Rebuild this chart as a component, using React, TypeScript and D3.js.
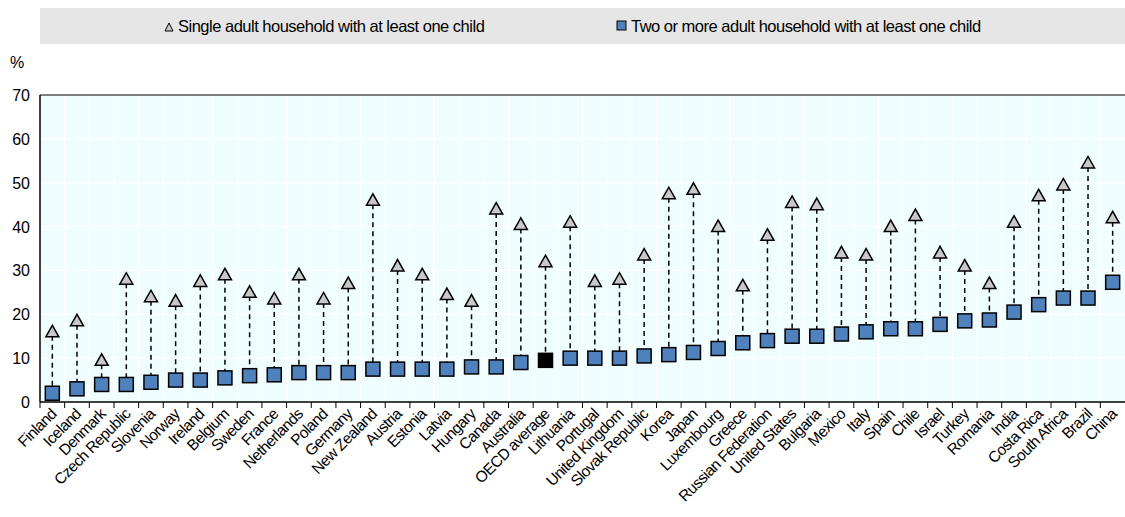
import { scaleBand, scaleLinear } from 'd3'

const countries = [
  'Finland', 'Iceland', 'Denmark', 'Czech Republic', 'Slovenia', 'Norway', 'Ireland', 'Belgium',
  'Sweden', 'France', 'Netherlands', 'Poland', 'Germany', 'New Zealand', 'Austria', 'Estonia',
  'Latvia', 'Hungary', 'Canada', 'Australia', 'OECD average', 'Lithuania', 'Portugal',
  'United Kingdom', 'Slovak Republic', 'Korea', 'Japan', 'Luxembourg', 'Greece',
  'Russian Federation', 'United States', 'Bulgaria', 'Mexico', 'Italy', 'Spain', 'Chile',
  'Israel', 'Turkey', 'Romania', 'India', 'Costa Rica', 'South Africa', 'Brazil', 'China',
]
const singleAdult = [
  16, 18.5, 9.5, 28, 24, 23, 27.5, 29, 25, 23.5, 29, 23.5, 27, 46, 31, 29, 24.5, 23, 44, 40.5,
  32, 41, 27.5, 28, 33.5, 47.5, 48.5, 40, 26.5, 38, 45.5, 45, 34, 33.5, 40, 42.5, 34, 31, 27,
  41, 47, 49.5, 54.5, 42,
]
const twoAdults = [
  2, 3, 4, 4, 4.5, 5, 5, 5.5, 6, 6.2, 6.7, 6.7, 6.7, 7.5, 7.5, 7.5, 7.5, 8, 8, 9, 9.5, 10, 10,
  10, 10.5, 10.8, 11.3, 12.2, 13.5, 14, 15, 15, 15.5, 16, 16.7, 16.7, 17.7, 18.5, 18.7, 20.5,
  22.2, 23.7, 23.7, 27.3,
]
const yTicks = [0, 10, 20, 30, 40, 50, 60, 70]

const width = 1125
const height = 517
const margin = { top: 95, right: 0, bottom: 115, left: 40 }

export default function App() {
  const innerWidth = width - margin.left - margin.right
  const innerHeight = height - margin.top - margin.bottom
  const x = scaleBand<string>().domain(countries).range([0, innerWidth])
  const y = scaleLinear().domain([0, 70]).range([innerHeight, 0])
  const bw = x.bandwidth()
  const font = '"Liberation Sans", Arial, sans-serif'

  return (
    <svg width={width} height={height} style={{ position: 'absolute', left: 0, top: 0 }} fontFamily={font}>
      <rect x={40} y={8} width={1085} height={36} fill="#e6e6e6" />
      <path d="M165,31 L169,23 L173,31 Z" fill="#c8c8c8" stroke="#000" strokeWidth={1} />
      <text x={178} y={32} fontSize={16.5} letterSpacing={-0.5}>Single adult household with at least one child</text>
      <rect x={617} y={21} width={9} height={9} fill="#4f81bd" stroke="#000" strokeWidth={1} />
      <text x={631} y={32} fontSize={16.5} letterSpacing={-0.5}>Two or more adult household with at least one child</text>
      <text x={10} y={68} fontSize={16}>%</text>
      <g transform={`translate(${margin.left},${margin.top})`}>
        <rect width={innerWidth} height={innerHeight} fill="#f0fdff" />
        {yTicks.map((t) => (
          <line key={t} x1={0} x2={innerWidth} y1={y(t)} y2={y(t)} stroke="#fff" strokeWidth={1} />
        ))}
        {countries.map((c, i) =>
          i === 0 ? null : (
            <line key={c} x1={x(c)!} x2={x(c)!} y1={0} y2={innerHeight} stroke="#fff" strokeWidth={1} />
          ),
        )}
        <line x1={0} x2={innerWidth} y1={0} y2={0} stroke="#000" strokeWidth={1} />
        <line x1={0} x2={0} y1={0} y2={innerHeight} stroke="#000" strokeWidth={1.5} />
        <line x1={0} x2={innerWidth} y1={innerHeight} y2={innerHeight} stroke="#000" strokeWidth={1.5} />
        {yTicks.map((t) => (
          <text key={t} x={-10} y={y(t) + 6} fontSize={16} textAnchor="end">{t}</text>
        ))}
        {countries.map((c, i) => {
          const cx = x(c)! + bw / 2
          const ys = y(singleAdult[i])
          const yt = y(twoAdults[i])
          return (
            <g key={c}>
              <line x1={x(c)!} x2={x(c)!} y1={innerHeight} y2={innerHeight + 6} stroke="#000" />
              <line x1={cx} x2={cx} y1={ys + 4} y2={yt} stroke="#000" strokeWidth={1.5} strokeDasharray="5,4" />
              <path d={`M${cx - 6.5},${ys + 5} L${cx},${ys - 6.5} L${cx + 6.5},${ys + 5} Z`} fill="#c8c8c8" stroke="#000" strokeWidth={1.5} />
              <rect x={cx - 7} y={yt - 7} width={14} height={14} fill={c === 'OECD average' ? '#000' : '#4f81bd'} stroke="#000" strokeWidth={1.5} />
              <text
                transform={`translate(${cx + 5},${innerHeight + 13}) rotate(-45)`}
                textAnchor="end"
                fontSize={15.5}
                letterSpacing={-0.6}
              >
                {c}
              </text>
            </g>
          )
        })}
      </g>
    </svg>
  )
}
